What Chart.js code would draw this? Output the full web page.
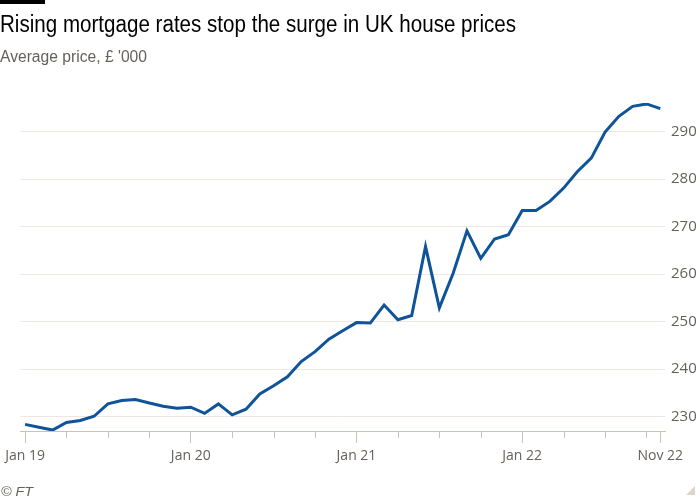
<!DOCTYPE html>
<html>
<head>
<meta charset="utf-8">
<script src="https://cdn.jsdelivr.net/npm/chart.js@4.4.1/dist/chart.umd.min.js"></script>
<style>
html,body{margin:0;padding:0;background:#fff;width:700px;height:500px;overflow:hidden;}
#wrap{position:relative;width:700px;height:500px;}
canvas{position:absolute;left:0;top:0;}
#bar{position:absolute;left:0;top:0;width:45px;height:4px;background:#000;}
.txt{position:absolute;left:0;white-space:nowrap;line-height:1;transform-origin:0 0;}
#title{top:13px;font-family:"Liberation Sans Narrow","Liberation Sans",sans-serif;font-size:23px;color:#000;}
#sub{top:49px;font-family:"Liberation Sans Narrow","Liberation Sans",sans-serif;font-size:16px;color:#66605c;}
#src{left:1px;top:485px;font-family:"Liberation Sans Narrow","Liberation Sans",sans-serif;font-style:italic;font-size:13px;color:#66605c;}
</style>
</head>
<body>
<div id="wrap">
  <canvas id="c" width="700" height="500"></canvas>
  <div id="bar"></div>
  <div id="title" class="txt">Rising mortgage rates stop the surge in UK house prices</div>
  <div id="sub" class="txt">Average price, £ '000</div>
  <div id="src" class="txt">© FT</div>
</div>
<script>
const categories = ["Jan 19","Feb 19","Mar 19","Apr 19","May 19","Jun 19","Jul 19","Aug 19","Sep 19","Oct 19","Nov 19","Dec 19",
  "Jan 20","Feb 20","Mar 20","Apr 20","May 20","Jun 20","Jul 20","Aug 20","Sep 20","Oct 20","Nov 20","Dec 20",
  "Jan 21","Feb 21","Mar 21","Apr 21","May 21","Jun 21","Jul 21","Aug 21","Sep 21","Oct 21","Nov 21","Dec 21",
  "Jan 22","Feb 22","Mar 22","Apr 22","May 22","Jun 22","Jul 22","Aug 22","Sep 22","Oct 22","Nov 22"];
const prices = [228.4,227.8,227.2,228.8,229.2,230.1,232.7,233.4,233.6,232.9,232.2,231.8,
  232.0,230.7,232.7,230.4,231.6,234.8,236.5,238.4,241.6,243.7,246.3,248.1,
  249.8,249.7,253.5,250.4,251.3,265.8,252.9,260.2,269.1,263.3,267.4,268.3,
  273.4,273.4,275.3,278.1,281.6,284.4,289.9,293.2,295.3,295.8,294.8];
const xTickLabels = ["Jan 19","Jan 20","Jan 21","Jan 22","Nov 22"];
const xMinorTicks = ["Apr 19","Jul 19","Oct 19","Apr 20","Jul 20","Oct 20","Apr 21","Jul 21","Oct 21","Apr 22","Jul 22","Oct 22"];
const yTicks = [230,240,250,260,270,280,290];

function fitWidth(id, target){
  const el = document.getElementById(id);
  const w = el.getBoundingClientRect().width;
  if (w > 0) el.style.transform = 'scaleX(' + (target / w) + ')';
}

const majorIdx = xTickLabels.map(l => categories.indexOf(l));
const minorIdx = xMinorTicks.map(l => categories.indexOf(l));
const allTickIdx = majorIdx.concat(minorIdx).sort((a,b)=>a-b);
const points = prices.map((v,i) => ({x:i, y:v}));
const axisColor = '#ccc1b7';

const minorTicksPlugin = {
  id:'minorTicks',
  afterDraw(chart){
    const xs = chart.scales.x, c = chart.ctx;
    c.save();
    c.strokeStyle = axisColor; c.lineWidth = 1;
    minorIdx.forEach(i => {
      const px = Math.round(xs.getPixelForValue(i)) + 0.5;
      c.beginPath(); c.moveTo(px, xs.top); c.lineTo(px, xs.top + 7); c.stroke();
    });
    c.fillStyle = '#ddd4cb';
    c.beginPath(); c.moveTo(686,495); c.lineTo(695,486); c.lineTo(695,495); c.closePath(); c.fill();
    c.restore();
  }
};

function draw(){
  fitWidth('title', 516);
  fitWidth('sub', 147);
  fitWidth('src', 32);
  new Chart(document.getElementById('c').getContext('2d'), {
    type:'line',
    data:{datasets:[{data:points,borderColor:'#0f5499',borderWidth:3,pointRadius:0,tension:0,fill:false,borderJoinStyle:'miter'}]},
    options:{
      responsive:false, animation:false,
      layout:{padding:{left:20,top:103,right:0,bottom:29}},
      plugins:{legend:{display:false},tooltip:{enabled:false},title:{display:false}},
      scales:{
        x:{
          type:'linear', min:-0.34, max:46.34,
          afterBuildTicks(s){ s.ticks = allTickIdx.map(v => ({value:v})); },
          afterFit(s){ s.height = 40; },
          ticks:{autoSkip:false,maxRotation:0,padding:5,color:'#66605c',
            font:{family:'Open Sans',size:14},
            callback:(v)=> majorIdx.includes(v) ? categories[v] : ''},
          grid:{drawOnChartArea:false,drawTicks:true,tickLength:12,
            tickColor:(ctx)=> (ctx.tick && majorIdx.includes(ctx.tick.value)) ? axisColor : 'rgba(0,0,0,0)'},
          border:{display:true,color:axisColor,width:1}
        },
        y:{
          position:'right', min:227, max:296,
          afterBuildTicks(s){ s.ticks = yTicks.map(v => ({value:v})); },
          afterFit(s){ s.width = 35; },
          ticks:{padding:6,color:'#66605c',font:{family:'Open Sans',size:15}},
          grid:{color:'#eee7e1',drawTicks:false,lineWidth:1},
          border:{display:false}
        }
      }
    },
    plugins:[minorTicksPlugin]
  });
}
if (document.fonts && document.fonts.ready) document.fonts.ready.then(draw); else draw();
</script>
</body>
</html>
